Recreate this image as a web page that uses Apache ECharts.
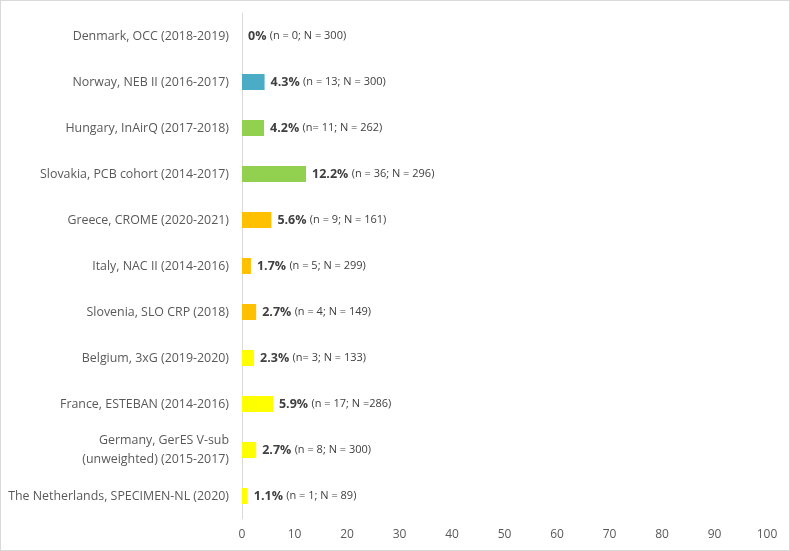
<!DOCTYPE html>
<html><head><meta charset="utf-8">
<script src="https://cdn.jsdelivr.net/npm/echarts@6/dist/echarts.min.js"></script>
<style>
html,body{margin:0;padding:0;background:#fff;}
#c{width:790px;height:551px;box-sizing:border-box;border:1px solid #d9d9d9;}
</style></head>
<body><div id="c"></div>
<script>
const categories = [
  "Denmark, OCC (2018-2019)",
  "Norway, NEB II (2016-2017)",
  "Hungary, InAirQ (2017-2018)",
  "Slovakia, PCB cohort (2014-2017)",
  "Greece, CROME (2020-2021)",
  "Italy, NAC II (2014-2016)",
  "Slovenia, SLO CRP (2018)",
  "Belgium, 3xG (2019-2020)",
  "France, ESTEBAN (2014-2016)",
  "Germany, GerES V-sub\n(unweighted) (2015-2017)",
  "The Netherlands, SPECIMEN-NL (2020)"
];
const values = [0, 4.3, 4.2, 12.2, 5.6, 1.7, 2.7, 2.3, 5.9, 2.7, 1.1];
const valueText = ["0%", "4.3%", "4.2%", "12.2%", "5.6%", "1.7%", "2.7%", "2.3%", "5.9%", "2.7%", "1.1%"];
const countText = [
  "(n = 0; N = 300)",
  "(n = 13; N = 300)",
  "(n= 11; N = 262)",
  "(n = 36; N = 296)",
  "(n = 9; N = 161)",
  "(n = 5; N = 299)",
  "(n = 4; N = 149)",
  "(n= 3; N = 133)",
  "(n = 17; N =286)",
  "(n = 8; N = 300)",
  "(n = 1; N = 89)"
];
const regions = ["north","north","east","east","south","south","south","west","west","west","west"];
const xTicks = [0,10,20,30,40,50,60,70,80,90,100];

const regionColors = {north:"#4BACC6", east:"#92D050", south:"#FFC000", west:"#FFFF00"};

const chart = echarts.init(document.getElementById('c'), null, {renderer:'canvas'});
const font = "'Open Sans', 'Liberation Sans', sans-serif";
chart.setOption({
  animation:false,
  grid:{left:241, right:22, top:12, bottom:31, containLabel:false, outerBoundsMode:'none'},
  xAxis:{
    type:'value', min:xTicks[0], max:xTicks[xTicks.length-1], interval:10,
    axisLine:{show:false}, axisTick:{show:false}, splitLine:{show:false},
    axisLabel:{color:'#595959', fontSize:12, fontFamily:font, margin:10}
  },
  yAxis:{
    type:'category', data:categories, inverse:true,
    axisLine:{show:true, lineStyle:{color:'#d9d9d9', width:1}},
    axisTick:{show:false},
    axisLabel:{color:'#595959', fontSize:12.4, fontFamily:font, margin:13, lineHeight:19, align:'right'}
  },
  series:[{
    type:'bar',
    data:values.map((v,i)=>({value:v, itemStyle:{color:regionColors[regions[i]]}})),
    barWidth:16,
    label:{
      show:true, position:'right', distance:6,
      formatter:(p)=>'{b|'+valueText[p.dataIndex]+'} {n|'+countText[p.dataIndex]+'}',
      rich:{
        b:{fontWeight:'bold', fontSize:12.5, color:'#404040', fontFamily:font},
        n:{fontSize:11, color:'#404040', fontFamily:font}
      }
    }
  }]
});
</script></body></html>
